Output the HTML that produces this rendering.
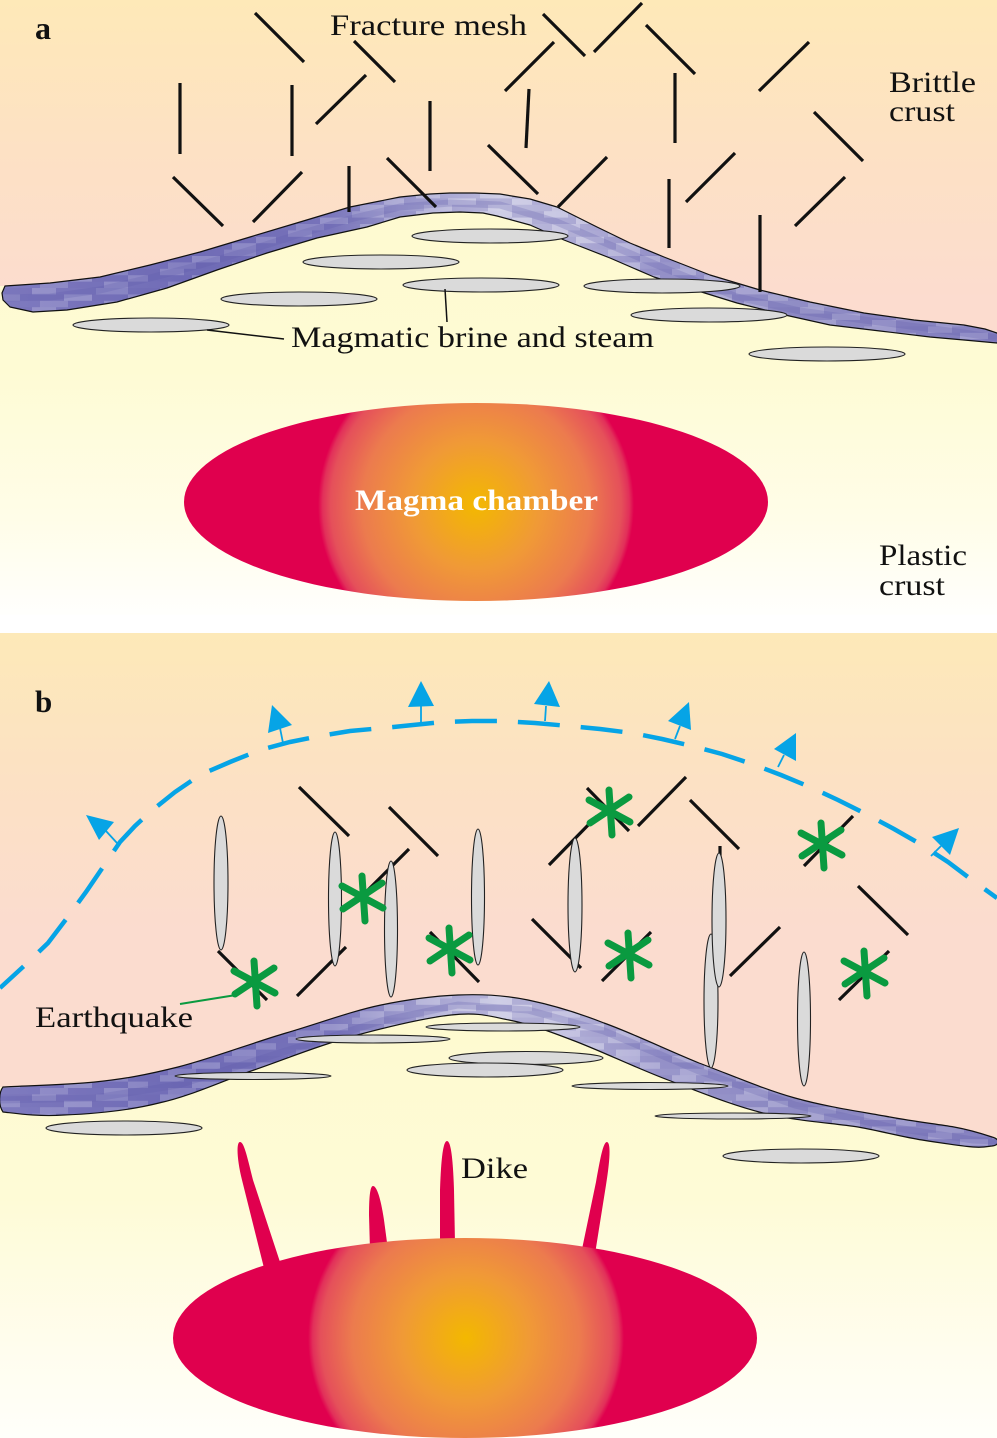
<!DOCTYPE html>
<html><head><meta charset="utf-8"><style>
html,body{margin:0;padding:0;background:#fff;}
svg{display:block;}
text{font-family:"Liberation Serif",serif;fill:#111;}
</style></head><body>
<svg width="997" height="1438" viewBox="0 0 997 1438" xmlns="http://www.w3.org/2000/svg">
<defs>
<linearGradient id="upA" gradientUnits="userSpaceOnUse" x1="0" y1="0" x2="0" y2="300">
<stop offset="0" stop-color="#fee9b8"/><stop offset="0.5" stop-color="#fde1c4"/><stop offset="1" stop-color="#fcdccf"/></linearGradient>
<linearGradient id="lowA" gradientUnits="userSpaceOnUse" x1="0" y1="200" x2="0" y2="625">
<stop offset="0" stop-color="#fefad0"/><stop offset="0.4" stop-color="#fefbd4"/><stop offset="0.75" stop-color="#fffde8"/><stop offset="1" stop-color="#ffffff"/></linearGradient>
<linearGradient id="upB" gradientUnits="userSpaceOnUse" x1="0" y1="633" x2="0" y2="930">
<stop offset="0" stop-color="#fde9b8"/><stop offset="0.5" stop-color="#fce1c4"/><stop offset="1" stop-color="#fbdccf"/></linearGradient>
<linearGradient id="lowB" gradientUnits="userSpaceOnUse" x1="0" y1="1000" x2="0" y2="1438">
<stop offset="0" stop-color="#fefacf"/><stop offset="0.45" stop-color="#fefbd6"/><stop offset="0.8" stop-color="#fffdee"/><stop offset="1" stop-color="#fffffa"/></linearGradient>
<linearGradient id="bandG" x1="0" y1="0" x2="1" y2="0">
<stop offset="0" stop-color="#8581c2"/><stop offset="0.2" stop-color="#7470b9"/><stop offset="0.33" stop-color="#807cbf"/><stop offset="0.4" stop-color="#a4a2d1"/><stop offset="0.5" stop-color="#c9c8e3"/><stop offset="0.58" stop-color="#bdbbdd"/><stop offset="0.66" stop-color="#a3a0d0"/><stop offset="0.8" stop-color="#9895c9"/><stop offset="1" stop-color="#8c88c4"/></linearGradient>
<pattern id="mot" patternUnits="userSpaceOnUse" width="64" height="12" patternTransform="scale(2,1.6)">
<rect x="0" y="0" width="16" height="4" fill="#4f48a0" fill-opacity="0.3"/>
<rect x="16" y="0" width="12" height="4" fill="#ffffff" fill-opacity="0.25"/>
<rect x="28" y="0" width="20" height="4" fill="#4f48a0" fill-opacity="0.18"/>
<rect x="48" y="0" width="16" height="4" fill="#ffffff" fill-opacity="0.18"/>
<rect x="0" y="4" width="10" height="4" fill="#ffffff" fill-opacity="0.22"/>
<rect x="10" y="4" width="22" height="4" fill="#4f48a0" fill-opacity="0.28"/>
<rect x="32" y="4" width="14" height="4" fill="#ffffff" fill-opacity="0.3"/>
<rect x="46" y="4" width="18" height="4" fill="#4f48a0" fill-opacity="0.3"/>
<rect x="0" y="8" width="20" height="4" fill="#4f48a0" fill-opacity="0.18"/>
<rect x="20" y="8" width="14" height="4" fill="#ffffff" fill-opacity="0.18"/>
<rect x="34" y="8" width="18" height="4" fill="#4f48a0" fill-opacity="0.26"/>
<rect x="52" y="8" width="12" height="4" fill="#ffffff" fill-opacity="0.26"/>
</pattern>
<radialGradient id="magA" gradientUnits="userSpaceOnUse" cx="476" cy="505" r="158">
<stop offset="0" stop-color="#f3b800"/><stop offset="0.4" stop-color="#f09a36"/><stop offset="0.72" stop-color="#ec7b4e"/><stop offset="0.92" stop-color="#e5505a"/><stop offset="0.97" stop-color="#e2305a"/><stop offset="1" stop-color="#e0004e"/></radialGradient>
<radialGradient id="magB" gradientUnits="userSpaceOnUse" cx="466" cy="1338" r="158">
<stop offset="0" stop-color="#f3b800"/><stop offset="0.4" stop-color="#f09a36"/><stop offset="0.72" stop-color="#ec7b4e"/><stop offset="0.92" stop-color="#e5505a"/><stop offset="0.97" stop-color="#e2305a"/><stop offset="1" stop-color="#e0004e"/></radialGradient>
<clipPath id="clipBandA"><path d="M5,286 L50,283 L100,277 L150,265 L200,252 L250,237 L300,222 L350,207 L400,197 L430,194 L450,193 L475,193 L500,194 L530,199 L557,207 L597,227 L630,243 L664,257 L710,275 L760,290 L810,302 L864,313 L914,320 L964,325 L985,329 L997,333 L1001,338 L997,343 L964,340 L930,337 L880,331 L830,325 L785,315 L737,303 L695,290 L654,277 L610,258 L564,240 L530,225 L497,216 L483,213 L460,212 L433,213 L400,217 L367,227 L317,238 L267,253 L217,270 L167,288 L117,302 L67,310 L33,312 L10,307 L3,300 L2,293 Z"/></clipPath>
<clipPath id="clipBandB"><path d="M3,1087 C18,1086 66,1085 95,1082 C124,1079 146,1075 178,1067 C210,1059 252,1043 286,1033 C320,1023 352,1011 381,1005 C410,999 434,996 458,995 C482,994 504,995 528,1000 C552,1005 576,1012 604,1023 C632,1033 667,1050 699,1063 C731,1075 763,1089 795,1098 C827,1107 863,1112 890,1117 C917,1122 937,1124 954,1127 C971,1130 986,1135 992,1137 C1000,1139 1000,1145 992,1146 C989,1146 985,1148 973,1147 C961,1146 941,1143 922,1140 C903,1137 885,1132 858,1127 C832,1123 795,1121 763,1113 C731,1105 700,1092 668,1080 C636,1068 599,1050 572,1040 C546,1030 529,1024 509,1020 C489,1016 478,1012 451,1015 C425,1018 383,1028 350,1037 C317,1046 286,1059 254,1070 C222,1081 191,1096 159,1103 C127,1111 90,1114 64,1115 C38,1117 13,1113 3,1112 C-2,1105 -1,1092 3,1087 Z"/></clipPath>
</defs>

<!-- ================= PANEL A ================= -->
<rect x="0" y="0" width="997" height="633" fill="url(#upA)"/>
<path d="M0,286 L5,286 L50,283 L100,277 L150,265 L200,252 L250,237 L300,222 L350,207 L400,197 L430,194 L450,193 L475,193 L500,194 L530,199 L557,207 L597,227 L630,243 L664,257 L710,275 L760,290 L810,302 L864,313 L914,320 L964,325 L985,329 L997,333 L997,633 L0,633 Z" fill="url(#lowA)"/>
<rect x="0" y="615" width="997" height="18" fill="#fff"/>

<!-- band a -->
<g>
<rect x="0" y="180" width="997" height="170" fill="url(#bandG)" clip-path="url(#clipBandA)"/>
<rect x="0" y="180" width="997" height="170" fill="url(#mot)" opacity="0.6" clip-path="url(#clipBandA)"/>
<polyline clip-path="url(#clipBandA)" points="0,298 50,297 100,290 150,278 200,265 250,250 300,234 350,219 400,207 450,203 500,205 557,222 610,245 664,268 737,297 800,311 864,320 964,333 997,338" fill="none" stroke="#5f5aac" stroke-width="7" stroke-opacity="0.25"/>
<path d="M5,286 L50,283 L100,277 L150,265 L200,252 L250,237 L300,222 L350,207 L400,197 L430,194 L450,193 L475,193 L500,194 L530,199 L557,207 L597,227 L630,243 L664,257 L710,275 L760,290 L810,302 L864,313 L914,320 L964,325 L985,329 L997,333 L1001,338 L997,343 L964,340 L930,337 L880,331 L830,325 L785,315 L737,303 L695,290 L654,277 L610,258 L564,240 L530,225 L497,216 L483,213 L460,212 L433,213 L400,217 L367,227 L317,238 L267,253 L217,270 L167,288 L117,302 L67,310 L33,312 L10,307 L3,300 L2,293 Z" fill="none" stroke="#111" stroke-width="1.2" stroke-linejoin="round"/>
</g>

<!-- ellipses a -->
<g fill="#dadada" stroke="#222" stroke-width="1.1">
<ellipse cx="490" cy="236" rx="78" ry="7"/>
<ellipse cx="381" cy="262" rx="78" ry="7"/>
<ellipse cx="481" cy="285" rx="78" ry="7"/>
<ellipse cx="299" cy="299" rx="78" ry="7"/>
<ellipse cx="151" cy="325" rx="78" ry="7"/>
<ellipse cx="662" cy="286" rx="78" ry="7"/>
<ellipse cx="709" cy="315" rx="78" ry="7"/>
<ellipse cx="827" cy="354" rx="78" ry="7"/>
</g>

<!-- fractures a -->
<g stroke="#111" stroke-width="3.2" stroke-linecap="butt" fill="none">
<line x1="255" y1="13" x2="304" y2="62"/>
<line x1="354" y1="41" x2="395" y2="82"/>
<line x1="316" y1="124" x2="366" y2="75"/>
<line x1="180" y1="83" x2="180" y2="154"/>
<line x1="292" y1="85" x2="292" y2="156"/>
<line x1="430" y1="101" x2="430" y2="171"/>
<line x1="173" y1="177" x2="223" y2="226"/>
<line x1="253" y1="222" x2="302" y2="172"/>
<line x1="349" y1="166" x2="349" y2="212"/>
<line x1="387" y1="158" x2="436" y2="207"/>
<line x1="488" y1="145" x2="538" y2="194"/>
<line x1="505" y1="91" x2="554" y2="42"/>
<line x1="529" y1="89" x2="526" y2="148"/>
<line x1="543" y1="14" x2="585" y2="56"/>
<line x1="594" y1="52" x2="642" y2="3"/>
<line x1="646" y1="25" x2="695" y2="74"/>
<line x1="675" y1="73" x2="675" y2="143"/>
<line x1="558" y1="207" x2="607" y2="157"/>
<line x1="669" y1="179" x2="669" y2="248"/>
<line x1="686" y1="202" x2="735" y2="153"/>
<line x1="759" y1="91" x2="809" y2="42"/>
<line x1="814" y1="112" x2="863" y2="161"/>
<line x1="795" y1="226" x2="845" y2="177"/>
<line x1="760" y1="215" x2="760" y2="292"/>
</g>

<!-- leaders a -->
<g stroke="#111" stroke-width="1.5">
<line x1="207" y1="330" x2="284" y2="339"/>
<line x1="445" y1="289" x2="447" y2="322"/>
</g>

<!-- magma chamber a -->
<ellipse cx="476" cy="502" rx="292" ry="99" fill="url(#magA)"/>

<!-- labels a -->
<text x="35" y="39" font-size="32" font-weight="bold">a</text>
<text x="330" y="35" font-size="30" textLength="197" lengthAdjust="spacingAndGlyphs">Fracture mesh</text>
<text x="889" y="92" font-size="30" textLength="87" lengthAdjust="spacingAndGlyphs">Brittle</text>
<text x="889" y="121" font-size="30" textLength="66" lengthAdjust="spacingAndGlyphs">crust</text>
<text x="291" y="347" font-size="30" textLength="363" lengthAdjust="spacingAndGlyphs">Magmatic brine and steam</text>
<text x="355" y="510" font-size="30" font-weight="bold" style="fill:#fff" textLength="243" lengthAdjust="spacingAndGlyphs">Magma chamber</text>
<text x="879" y="565" font-size="30" textLength="88" lengthAdjust="spacingAndGlyphs">Plastic</text>
<text x="879" y="595" font-size="30" textLength="66" lengthAdjust="spacingAndGlyphs">crust</text>

<!-- ================= PANEL B ================= -->
<rect x="0" y="633" width="997" height="805" fill="url(#upB)"/>
<path d="M0,1087 L3,1087 C18,1086 66,1085 95,1082 C124,1079 146,1075 178,1067 C210,1059 252,1043 286,1033 C320,1023 352,1011 381,1005 C410,999 434,996 458,995 C482,994 504,995 528,1000 C552,1005 576,1012 604,1023 C632,1033 667,1050 699,1063 C731,1075 763,1089 795,1098 C827,1107 863,1112 890,1117 C917,1122 937,1124 954,1127 C971,1130 986,1135 992,1137 L997,1137 L997,1438 L0,1438 Z" fill="url(#lowB)"/>

<!-- band b -->
<rect x="0" y="980" width="997" height="180" fill="url(#bandG)" clip-path="url(#clipBandB)"/>
<rect x="0" y="980" width="997" height="180" fill="url(#mot)" opacity="0.6" clip-path="url(#clipBandB)"/>
<polyline clip-path="url(#clipBandB)" points="0,1100 95,1098 178,1085 286,1051 381,1021 458,1005 528,1010 604,1031 699,1071 795,1105 890,1127 973,1140 997,1141" fill="none" stroke="#5f5aac" stroke-width="7" stroke-opacity="0.25"/>
<path d="M3,1087 C18,1086 66,1085 95,1082 C124,1079 146,1075 178,1067 C210,1059 252,1043 286,1033 C320,1023 352,1011 381,1005 C410,999 434,996 458,995 C482,994 504,995 528,1000 C552,1005 576,1012 604,1023 C632,1033 667,1050 699,1063 C731,1075 763,1089 795,1098 C827,1107 863,1112 890,1117 C917,1122 937,1124 954,1127 C971,1130 986,1135 992,1137 C1000,1139 1000,1145 992,1146 C989,1146 985,1148 973,1147 C961,1146 941,1143 922,1140 C903,1137 885,1132 858,1127 C832,1123 795,1121 763,1113 C731,1105 700,1092 668,1080 C636,1068 599,1050 572,1040 C546,1030 529,1024 509,1020 C489,1016 478,1012 451,1015 C425,1018 383,1028 350,1037 C317,1046 286,1059 254,1070 C222,1081 191,1096 159,1103 C127,1111 90,1114 64,1115 C38,1117 13,1113 3,1112 C-2,1105 -1,1092 3,1087 Z" fill="none" stroke="#111" stroke-width="1.2"/>

<!-- horizontal ellipses b -->
<g fill="#dadada" stroke="#222" stroke-width="1.1">
<ellipse cx="503" cy="1027" rx="77" ry="4"/>
<ellipse cx="373" cy="1039" rx="77" ry="4"/>
<ellipse cx="526" cy="1058" rx="77" ry="6.5"/>
<ellipse cx="485" cy="1070" rx="78" ry="7"/>
<ellipse cx="253" cy="1076" rx="78" ry="3.5"/>
<ellipse cx="650" cy="1086" rx="78" ry="3.5"/>
<ellipse cx="733" cy="1116" rx="78" ry="3"/>
<ellipse cx="124" cy="1128" rx="78" ry="7"/>
<ellipse cx="801" cy="1156" rx="78" ry="7"/>
</g>

<!-- fractures b -->
<g stroke="#111" stroke-width="3.2" fill="none">
<line x1="299" y1="787" x2="349" y2="836"/>
<line x1="389" y1="807" x2="438" y2="856"/>
<line x1="409" y1="849" x2="360" y2="898"/>
<line x1="218" y1="951" x2="267" y2="1000"/>
<line x1="346" y1="947" x2="297" y2="996"/>
<line x1="430" y1="932" x2="479" y2="982"/>
<line x1="686" y1="777" x2="638" y2="826"/>
<line x1="587" y1="788" x2="629" y2="831"/>
<line x1="549" y1="865" x2="597" y2="816"/>
<line x1="690" y1="800" x2="739" y2="849"/>
<line x1="853" y1="816" x2="804" y2="866"/>
<line x1="532" y1="919" x2="581" y2="968"/>
<line x1="651" y1="932" x2="602" y2="981"/>
<line x1="780" y1="927" x2="730" y2="976"/>
<line x1="858" y1="886" x2="908" y2="935"/>
<line x1="889" y1="951" x2="839" y2="1000"/>
<line x1="720" y1="846" x2="720" y2="870"/>
</g>

<!-- vertical needle ellipses b -->
<g fill="#dadada" stroke="#222" stroke-width="1.1">
<ellipse cx="221" cy="883" rx="7" ry="67"/>
<ellipse cx="335" cy="899" rx="6.5" ry="67"/>
<ellipse cx="391" cy="929" rx="6.5" ry="68"/>
<ellipse cx="478" cy="897" rx="6.5" ry="68"/>
<ellipse cx="575" cy="905" rx="7" ry="67"/>
<ellipse cx="711" cy="1001" rx="7" ry="67"/>
<ellipse cx="719" cy="920" rx="7" ry="67"/>
<ellipse cx="804" cy="1019" rx="6.5" ry="67"/>
</g>

<!-- blue dashed front -->
<polyline points="0,988 24,966 48,943 67,918 86,892 103,867 120,842 135,826 150,812 175,792 200,775 230,762 260,750 290,742 320,736 350,731 383,728 413,725 443,722 472,721 500,721 535,723 569,726 600,729 632,733 662,739 692,746 722,754 752,764 781,775 810,787 838,800 866,814 894,829 922,845 948,862 972,880 997,898" fill="none" stroke="#06a4e6" stroke-width="4.5" stroke-dasharray="42 21" stroke-dashoffset="10"/>
<g fill="#06a4e6" stroke="#06a4e6">
<line x1="117" y1="843" x2="106" y2="831" stroke-width="1.8"/>
<polygon points="86,815 114,822 99,840" stroke="none"/>
<line x1="283" y1="743" x2="280" y2="728" stroke-width="1.8"/>
<polygon points="272,705 268,733 292,725" stroke="none"/>
<line x1="421" y1="722" x2="421" y2="705" stroke-width="1.8"/>
<polygon points="421,681 408,707 434,706" stroke="none"/>
<line x1="545" y1="721" x2="546" y2="706" stroke-width="1.8"/>
<polygon points="549,681 534,704 560,707" stroke="none"/>
<line x1="675" y1="739" x2="680" y2="726" stroke-width="1.8"/>
<polygon points="689,702 668,721 691,730" stroke="none"/>
<line x1="778" y1="767" x2="784" y2="755" stroke-width="1.8"/>
<polygon points="796,733 774,749 796,761" stroke="none"/>
<line x1="931" y1="856" x2="941" y2="846" stroke-width="1.8"/>
<polygon points="959,828 932,837 950,855" stroke="none"/>
</g>

<!-- earthquakes -->
<line x1="180" y1="1004" x2="236" y2="995" stroke="#0a9a40" stroke-width="2"/>
<g stroke="#0a9a40" stroke-width="7" stroke-linecap="round" fill="none">
<g transform="translate(255,983)"><path d="M-1,-22 L2,23 M-21,-12 L20,10 M-20,11 L19,-15"/></g>
<g transform="translate(363,898)"><path d="M-1,-22 L2,23 M-21,-12 L20,10 M-20,11 L19,-15"/></g>
<g transform="translate(450,950)"><path d="M-1,-22 L2,23 M-21,-12 L20,10 M-20,11 L19,-15"/></g>
<g transform="translate(610,812)"><path d="M-1,-22 L2,23 M-21,-12 L20,10 M-20,11 L19,-15"/></g>
<g transform="translate(822,845)"><path d="M-1,-22 L2,23 M-21,-12 L20,10 M-20,11 L19,-15"/></g>
<g transform="translate(629,955)"><path d="M-1,-22 L2,23 M-21,-12 L20,10 M-20,11 L19,-15"/></g>
<g transform="translate(865,973)"><path d="M-1,-22 L2,23 M-21,-12 L20,10 M-20,11 L19,-15"/></g>
</g>

<!-- dikes -->
<g fill="#e0004e">
<path d="M240,1142 C244,1142 247,1156 253,1180 L280,1262 L264,1268 L242,1180 C237,1160 236,1142 240,1142 Z"/>
<path d="M373,1186 C377,1186 381,1200 384,1220 L388,1250 L370,1250 L369,1215 C369,1198 370,1186 373,1186 Z"/>
<path d="M447,1141 C451,1141 453,1160 454,1190 L455,1244 L440,1244 L440,1190 C441,1160 443,1141 447,1141 Z"/>
<path d="M607,1142 C611,1143 610,1160 606,1185 L595,1254 L581,1254 L596,1182 C600,1160 603,1142 607,1142 Z"/>
</g>

<!-- magma chamber b -->
<ellipse cx="465" cy="1338" rx="292" ry="100" fill="url(#magB)"/>

<!-- labels b -->
<text x="35" y="712" font-size="31" font-weight="bold">b</text>
<text x="35" y="1027" font-size="30" textLength="158" lengthAdjust="spacingAndGlyphs">Earthquake</text>
<text x="461" y="1178" font-size="30" textLength="67" lengthAdjust="spacingAndGlyphs">Dike</text>
</svg>
</body></html>
